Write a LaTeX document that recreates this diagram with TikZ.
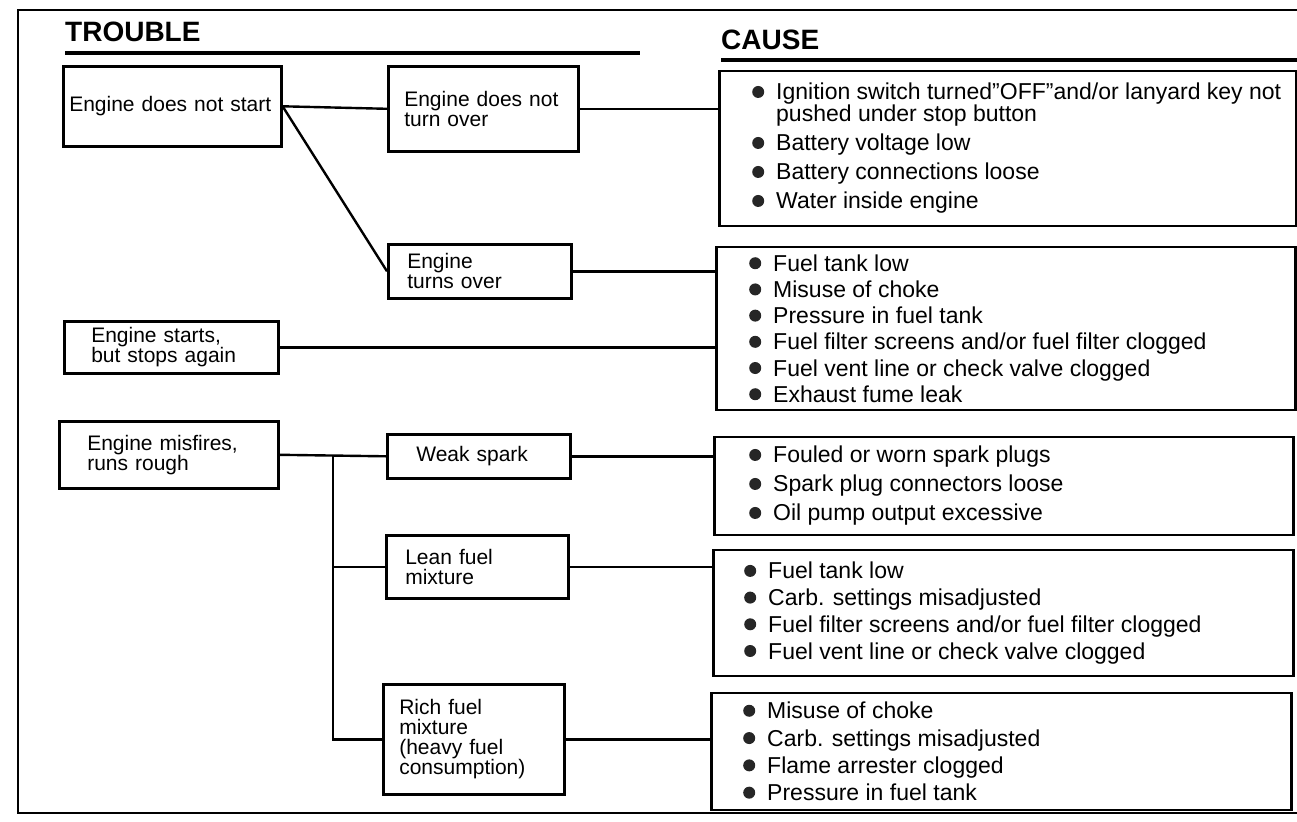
\documentclass[tikz,border=0pt]{standalone}
\usepackage{fontspec}
\setmainfont{Liberation Sans}
\usetikzlibrary{positioning}

\newcommand{\troublefont}{\fontsize{21pt}{20pt}\selectfont\lineskiplimit=-30pt}
\newcommand{\dotmark}{\makebox[24pt][l]{\tikz[baseline=-8pt]\fill[black!85] (6pt,0pt) circle (6pt);}}

\begin{document}
\begin{tikzpicture}[
    x=1pt,y=-1pt,
    head/.style={anchor=base west,inner sep=0pt,font=\fontsize{28pt}{30pt}\selectfont\bfseries},
    rule/.style={line width=4pt},
    trouble/.style n args={3}{draw,line width=2.6pt,anchor=north west,align=left,
      minimum height=#1,text width=#2,inner xsep=#3,inner ysep=0pt,font=\troublefont},
    causebox/.style n args={2}{draw,line width=2.6pt,anchor=west,minimum width=#1,minimum height=#2,inner sep=0pt},
    causelist/.style={anchor=west,align=left,inner sep=0pt,
      font={\fontsize{23pt}{#1}\selectfont\lineskiplimit=-30pt}},
    link/.style={line width=2.4pt},
  ]
  \useasboundingbox (0,0) rectangle (1297,821);

  % frame and headings
  \draw[line width=2pt] (1310,10) -- (18,10) -- (18,813) -- (1310,813);
  \node[head] (trouble) at (65,42) {TROUBLE};
  \node[head] (cause) at (721,50) {CAUSE};
  \draw[rule] ([yshift=-11pt]trouble.base west) -- ++(575,0);
  \draw[rule] ([yshift=-10pt]cause.base west) -- ++(576,0);

  % trouble column
  \node[trouble={80pt}{206pt}{6pt}] (nostart) at (62,65) {Engine does not start};
  \node[trouble={85pt}{158pt}{16pt}] (noturn) at (387,65) {Engine does not\\turn over};
  \node[trouble={54pt}{145pt}{19pt}] (turns) at (387,243) {Engine\\turns over};
  \node[trouble={52pt}{160pt}{27pt}] (stops) at (63,320) {Engine starts,\\but stops again};
  \node[trouble={67pt}{163pt}{28pt}] (misfire) at (58,420) {Engine misfires,\\runs rough};
  \node[trouble={44pt}{125pt}{29pt}] (weak) at (386,433) {Weak spark};
  \node[trouble={63pt}{144pt}{19pt}] (lean) at (385,534) {Lean fuel\\mixture};
  \node[trouble={110pt}{149pt}{16pt}] (rich) at (382,683) {Rich fuel\\mixture\\(heavy fuel\\consumption)};

  % cause column
  \node[causebox={577pt}{155pt}] (c1) at (718,148.5) {};
  \node[causebox={579pt}{163pt}] (c2) at (715,328.5) {};
  \node[causebox={579pt}{98pt}] (c3) at (713,486) {};
  \node[causebox={580pt}{126pt}] (c4) at (712,613) {};
  \node[causebox={580pt}{117pt}] (c5) at (710,751.5) {};

  \node[causelist=29pt,right=34pt of c1.west] (c1t) {%
    \dotmark Ignition switch turned"OFF"and/or lanyard key not\\[-7pt]
    \hspace*{24pt}pushed under stop button\\
    \dotmark Battery voltage low\\
    \dotmark Battery connections loose\\
    \dotmark Water inside engine};
  \node[causelist=26.2pt,right=34pt of c2.west] (c2t) {%
    \dotmark Fuel tank low\\
    \dotmark Misuse of choke\\
    \dotmark Pressure in fuel tank\\
    \dotmark Fuel filter screens and/or fuel filter clogged\\
    \dotmark Fuel vent line or check valve clogged\\
    \dotmark Exhaust fume leak};
  \node[causelist=29pt,right=36pt of c3.west] (c3t) {%
    \dotmark Fouled or worn spark plugs\\
    \dotmark Spark plug connectors loose\\
    \dotmark Oil pump output excessive};
  \node[causelist=26.7pt,right=32pt of c4.west] (c4t) {%
    \dotmark Fuel tank low\\
    \dotmark Carb. settings misadjusted\\
    \dotmark Fuel filter screens and/or fuel filter clogged\\
    \dotmark Fuel vent line or check valve clogged};
  \node[causelist=27.3pt,right=33pt of c5.west] (c5t) {%
    \dotmark Misuse of choke\\
    \dotmark Carb. settings misadjusted\\
    \dotmark Flame arrester clogged\\
    \dotmark Pressure in fuel tank};

  % connectors
  \draw[link] (nostart.east) -- (noturn.west);
  \draw[link] (nostart.east) -- (turns.west);
  \draw[link] (noturn.east) -- (noturn.east -| c1.west);
  \draw[link] (turns.east) -- (turns.east -| c2.west);
  \draw[link] (stops.east) -- (stops.east -| c2.west);
  \draw[link] (misfire.east) -- (weak.west) coordinate[pos=.5] (fork);
  \draw[link] (fork) |- (lean.west);
  \draw[link] (fork) |- (rich.west);
  \draw[link] (weak.east) -- (weak.east -| c3.west);
  \draw[link] (lean.east) -- (lean.east -| c4.west);
  \draw[link] (rich.east) -- (rich.east -| c5.west);
\end{tikzpicture}
\end{document}
